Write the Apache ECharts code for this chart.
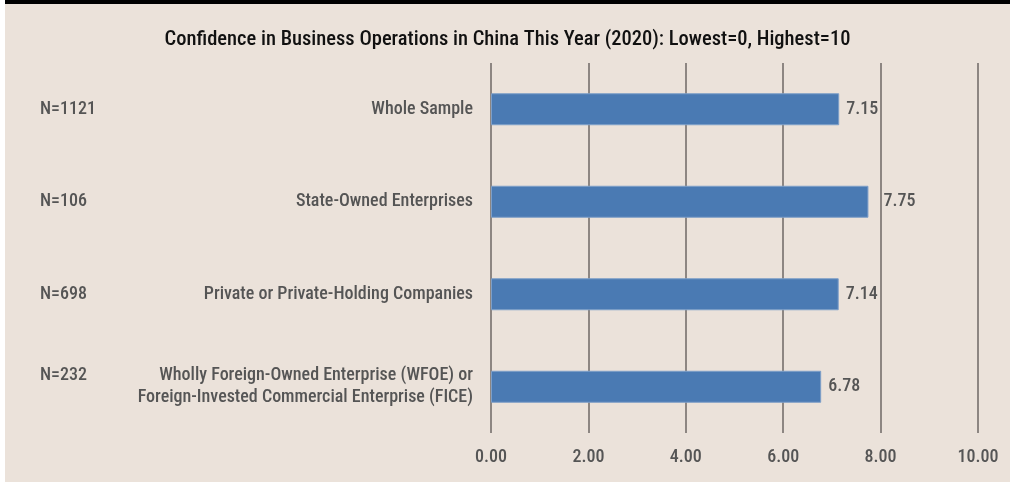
<!DOCTYPE html>
<html><head><meta charset="utf-8">
<script src="https://cdn.jsdelivr.net/npm/echarts@6/dist/echarts.min.js"></script>
<style>html,body{margin:0;padding:0;background:#fff}#c{position:absolute;left:5px;top:0;width:1005px;height:482px;background:#ebe2da;border-top:4px solid #000;box-sizing:border-box}</style>
</head><body><div id="c"></div>
<script>
var titleText = 'Confidence in Business Operations in China This Year (2020): Lowest=0, Highest=10';
var categories = ['Whole Sample', 'State-Owned Enterprises', 'Private or Private-Holding Companies', 'Wholly Foreign-Owned Enterprise (WFOE) or\nForeign-Invested Commercial Enterprise (FICE)'];
var sampleSizes = ['N=1121', 'N=106', 'N=698', 'N=232'];
var values = [7.15, 7.75, 7.14, 6.78];
var FONT = '"Liberation Sans Narrow", "Arial Narrow", "Roboto Condensed", "Liberation Sans", sans-serif';
var chart = echarts.init(document.getElementById('c'));
chart.setOption({
  backgroundColor: 'transparent',
  animation: false,
  title: {text: titleText, left: 'center', top: 20, textStyle: {fontFamily: FONT, fontSize: 20.5, fontWeight: 500, color: '#111'}},
  grid: {left: 486, right: 32, top: 59, bottom: 49},
  xAxis: {type: 'value', min: 0, max: 10, interval: 2,
    axisLine: {show: false}, axisTick: {show: false},
    splitLine: {lineStyle: {color: '#6e6764', width: 1.5}},
    axisLabel: {margin: 15, fontFamily: FONT, fontSize: 18, fontWeight: 500, color: '#555', formatter: function(v){return v.toFixed(2);}}},
  yAxis: [
    {type: 'category', data: categories, inverse: true,
      axisLine: {show: false}, axisTick: {show: false},
      axisLabel: {margin: 18, fontFamily: FONT, fontSize: 18, fontWeight: 500, color: '#555', align: 'right', lineHeight: 22}},
    {type: 'category', data: sampleSizes, inverse: true, position: 'left', offset: 451,
      axisLine: {show: false}, axisTick: {show: false},
      axisLabel: {margin: 0, fontFamily: FONT, fontSize: 18, fontWeight: 500, color: '#555', align: 'left', lineHeight: 22,
        formatter: function(v, i){ return categories[i].indexOf('\n') >= 0 ? v + '\n ' : v; }}}
  ],
  series: [{type: 'bar', yAxisIndex: 0, barWidth: 32,
    data: values.map(function(v){ return v > 7.5 ? {value: v, label: {distance: 15}} : v; }),
    itemStyle: {color: '#4a7ab3', borderColor: '#7e9fc8', borderWidth: 1},
    label: {show: true, position: 'right', distance: 7, fontFamily: FONT, fontSize: 18, fontWeight: 500, color: '#555',
      formatter: function(p){return p.value.toFixed(2);}}}]
});
</script></body></html>
